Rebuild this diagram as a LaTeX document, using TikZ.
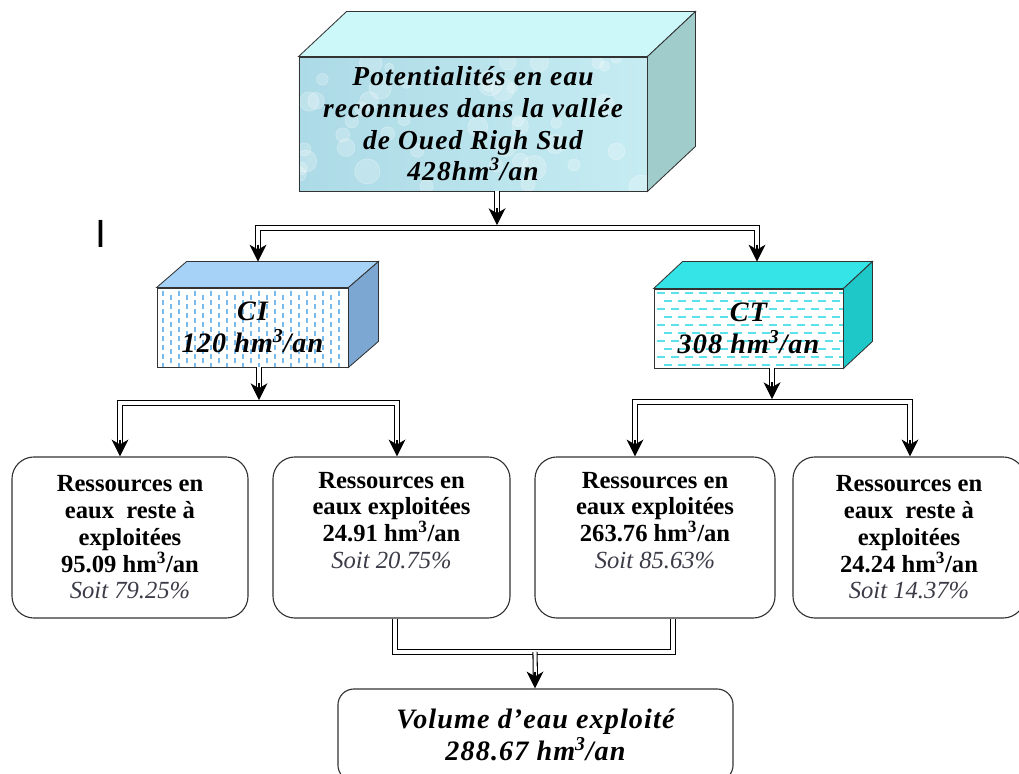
\documentclass[tikz,border=0pt]{standalone}
\usepackage{fontspec}
\setmainfont{Liberation Serif}
\newfontfamily\boxfont[LetterSpace=4]{Liberation Serif}
\newfontfamily\cursorfont{Liberation Sans}
\usetikzlibrary{arrows.meta, positioning}
\definecolor{aquatop}{RGB}{204,248,250}
\definecolor{aquaside}{RGB}{160,204,204}
\definecolor{aqualeft}{RGB}{172,218,230}
\definecolor{aquaright}{RGB}{198,236,242}
\definecolor{citopc}{RGB}{166,210,248}
\definecolor{cisidec}{RGB}{124,167,210}
\definecolor{cidash}{RGB}{120,186,234}
\definecolor{cttopc}{RGB}{52,228,230}
\definecolor{ctsidec}{RGB}{30,200,200}
\definecolor{ctdash}{RGB}{90,226,236}
\definecolor{soit}{RGB}{60,60,72}

\begin{document}
\begin{tikzpicture}[
  x=0.025cm, y=-0.025cm,
  face/.style={draw=black!80, line width=0.6pt},
  front/.style={face, align=center, inner sep=0pt,
                font=\boxfont\fontsize{20}{22.8}\selectfont\bfseries\itshape},
  result/.style={draw=black!80, line width=0.8pt, rounded corners=0.55cm,
                 align=center, inner sep=0pt, minimum height=4.025cm,
                 font=\fontsize{17.5}{19}\selectfont\bfseries},
  link/.style={double=white, double distance=2.2pt, line width=0.75pt},
  arrow/.style={link, shorten >=6pt},
  tip/.style={-{Stealth[length=12pt, width=12pt, inset=3.5pt]}, line width=0.75pt}
]
\fill[white] (0,0) rectangle (1019,774);
\useasboundingbox (0,0) rectangle (1019,774);

% main box
\node[front, minimum width=8.7cm, minimum height=3.35cm,
      font=\boxfont\fontsize{19.5}{22.5}\selectfont\bfseries\itshape,
      left color=aqualeft, right color=aquaright,
      path picture={\pgfmathsetseed{11}
        \foreach \k in {1,...,45} {
          \pgfmathsetmacro\dx{rnd*348}\pgfmathsetmacro\dy{rnd*134}\pgfmathsetmacro\rr{4+rnd*9}
          \filldraw[white, fill opacity=0.22, draw opacity=0.35, line width=0.4pt]
            ([shift={(\dx,\dy)}]path picture bounding box.north west) circle[radius=\rr];}}]
      (pot) at (473,124)
  {Potentialités en eau\\reconnues dans la vallée\\de Oued Righ Sud\\428hm\textsuperscript{3}/an};
\filldraw[face, fill=aquatop] (pot.north west) -- ++(48,-45) -- ([shift={(48,-45)}]pot.north east) -- (pot.north east) -- cycle;
\filldraw[face, fill=aquaside] (pot.north east) -- ++(48,-45) -- ([shift={(48,-45)}]pot.south east) -- (pot.south east) -- cycle;

% CI and CT
\node[front, minimum width=4.775cm, minimum height=1.975cm, fill=white,
      path picture={\foreach \i in {0,...,22} \foreach \j in {0,...,8}
        \draw[cidash, line width=0.8pt] ([shift={({\i*8+6},{\j*9+mod(\i,2)*4+3})}]path picture bounding box.north west) -- ++(0,5);}]
      (ci) at (252.5,327.5) {CI\\120 hm\textsuperscript{3}/an};
\filldraw[face, fill=citopc] (ci.north west) -- ++(30,-26) -- ([shift={(30,-26)}]ci.north east) -- (ci.north east) -- cycle;
\filldraw[face, fill=cisidec] (ci.north east) -- ++(30,-26) -- ([shift={(30,-26)}]ci.south east) -- (ci.south east) -- cycle;
\coordinate (ciback) at ([shift={(15,-26)}]ci.north);

\node[front, minimum width=4.725cm, minimum height=1.975cm, fill=white,
      path picture={\foreach \j in {0,...,9} \foreach \i in {0,...,13}
        \draw[ctdash, line width=0.9pt] ([shift={({\i*14+mod(\j,2)*7+3},{\j*8+4})}]path picture bounding box.north west) -- ++(8,0);}]
      (ct) at (748.5,328.5) {CT\\308 hm\textsuperscript{3}/an};
\filldraw[face, fill=cttopc] (ct.north west) -- ++(29,-27) -- ([shift={(29,-27)}]ct.north east) -- (ct.north east) -- cycle;
\filldraw[face, fill=ctsidec] (ct.north east) -- ++(29,-27) -- ([shift={(29,-27)}]ct.south east) -- (ct.south east) -- cycle;
\coordinate (ctback) at ([shift={(14.5,-27)}]ct.north);

% resources
\node[result, minimum width=5.9cm] (r1) at (130,537.5)
  {Ressources en\\eaux\ \ reste à\\exploitées\\95.09 hm\textsuperscript{3}/an\\{\mdseries\itshape\color{soit}Soit 79.25\%}};
\node[result, minimum width=5.925cm] (r2) at (391.5,537.5)
  {Ressources en\\eaux exploitées\\24.91 hm\textsuperscript{3}/an\\{\mdseries\itshape\color{soit}Soit 20.75\%}\\\strut};
\node[result, minimum width=6cm] (r3) at (655,537.5)
  {Ressources en\\eaux exploitées\\263.76 hm\textsuperscript{3}/an\\{\mdseries\itshape\color{soit}Soit 85.63\%}\\\strut};
\node[result, minimum width=5.8cm] (r4) at (909,537.5)
  {Ressources en\\eaux\ \ reste à\\exploitées\\24.24 hm\textsuperscript{3}/an\\{\mdseries\itshape\color{soit}Soit 14.37\%}};

\node[result, minimum width=9.875cm, minimum height=2.3cm, rounded corners=0.4cm,
      font=\boxfont\fontsize{20}{22.8}\selectfont\bfseries\itshape] (vol) at (535.5,735)
  {Volume d’eau exploité\\288.67 hm\textsuperscript{3}/an};

\node[font=\cursorfont\fontsize{28}{28}\selectfont, inner sep=0pt] (cursor) at (101,234) {I};

% connectors
\coordinate (b1) at (497,228);
\coordinate (b1l) at (258,228);
\coordinate (b1r) at (757,228);
\coordinate (b1top) at ([yshift=2pt]b1);
\coordinate (tci) at (b1l |- ciback);
\coordinate (tct) at (b1r |- ctback);
\draw[arrow] (pot.south -| b1) -- (b1top);
\draw[arrow] (b1) -| (tci);
\draw[arrow] (b1) -| (tct);
\draw[tip] ([yshift=12pt]b1top) -- (b1top);
\draw[tip] ([yshift=12pt]tci) -- (tci);
\draw[tip] ([yshift=12pt]tct) -- (tct);

\coordinate (b2) at (259,403);
\coordinate (b2l) at (120,403);
\coordinate (b2r) at (397,403);
\coordinate (b2top) at ([yshift=2pt]b2);
\coordinate (tr1) at (b2l |- r1.north);
\coordinate (tr2) at (b2r |- r2.north);
\draw[arrow] (ci.south -| b2) -- (b2top);
\draw[arrow] (b2) -| (tr1);
\draw[arrow] (b2) -| (tr2);
\draw[tip] ([yshift=12pt]b2top) -- (b2top);
\draw[tip] ([yshift=12pt]tr1) -- (tr1);
\draw[tip] ([yshift=12pt]tr2) -- (tr2);

\coordinate (b3) at (772,402);
\coordinate (b3l) at (635,402);
\coordinate (b3r) at (910,402);
\coordinate (b3top) at ([yshift=2pt]b3);
\coordinate (tr3) at (b3l |- r3.north);
\coordinate (tr4) at (b3r |- r4.north);
\draw[arrow] (ct.south -| b3) -- (b3top);
\draw[arrow] (b3) -| (tr3);
\draw[arrow] (b3) -| (tr4);
\draw[tip] ([yshift=12pt]b3top) -- (b3top);
\draw[tip] ([yshift=12pt]tr3) -- (tr3);
\draw[tip] ([yshift=12pt]tr4) -- (tr4);

\coordinate (j2) at (395,652);
\coordinate (j3) at (673,652);
\coordinate (j4) at (535,652);
\draw[link] (j2 |- r2.south) -- (j2) -- (j3) -- (j3 |- r3.south);
\draw[arrow] (j4) -- (vol.north);
\draw[tip] ([yshift=12pt]vol.north -| j4) -- (vol.north -| j4);
\end{tikzpicture}
\end{document}
